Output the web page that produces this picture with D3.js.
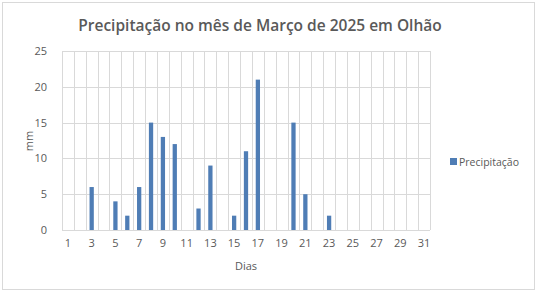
<!DOCTYPE html>
<html>
<head>
<meta charset="utf-8">
<script src="https://cdn.jsdelivr.net/npm/d3@7"></script>
<style>
  body { margin: 0; background: #fff; }
  text { font-family: "Open Sans", "Liberation Sans", sans-serif; fill: #595959; }
</style>
</head>
<body>
<div id="chart"></div>
<script>
// dias do mês e precipitação (mm)
const dias = d3.range(1, 32);
const precipitacao = [0,0,6,0,4,2,6,15,13,12,0,3,9,0,2,11,21,0,0,15,5,0,2,0,0,0,0,0,0,0,0];
const yTicks = [0, 5, 10, 15, 20, 25];
const xTickLabels = dias.filter(function(d) { return d % 2 === 1; });

const width = 538, height = 293;
const margin = {left: 62, right: 108, top: 51, bottom: 63};

const svg = d3.select('#chart')
  .append('svg')
  .attr('width', width)
  .attr('height', height);

// moldura
svg.append('rect')
  .attr('x', 2.5).attr('y', 2.5)
  .attr('width', 532).attr('height', 287)
  .attr('fill', '#fff')
  .attr('stroke', '#d9d9d9');

var x = d3.scaleBand()
  .domain(dias)
  .range([margin.left, width - margin.right])
  .paddingInner(0.64)
  .paddingOuter(0.32);

var xGrid = d3.scaleLinear().domain([0, 31]).range([margin.left, width - margin.right]);

var y = d3.scaleLinear()
  .domain([0, 25])
  .range([height - margin.bottom, margin.top]);

// grelha horizontal
svg.append('g').selectAll('line')
  .data(yTicks)
  .enter().append('line')
  .attr('x1', margin.left).attr('x2', width - margin.right)
  .attr('y1', function(d) { return Math.round(y(d)) + 0.5; })
  .attr('y2', function(d) { return Math.round(y(d)) + 0.5; })
  .attr('stroke', '#d9d9d9');

// grelha vertical
svg.append('g').selectAll('line')
  .data(d3.range(0, 32))
  .enter().append('line')
  .attr('x1', function(d) { return Math.round(xGrid(d)) + 0.5; })
  .attr('x2', function(d) { return Math.round(xGrid(d)) + 0.5; })
  .attr('y1', y(25)).attr('y2', y(0))
  .attr('stroke', '#d9d9d9');

// barras
svg.append('g').selectAll('rect')
  .data(dias.map(function(d, i) { return {dia: d, v: precipitacao[i]}; }).filter(function(d) { return d.v > 0; }))
  .enter().append('rect')
  .attr('x', function(d) { return x(d.dia); })
  .attr('y', function(d) { return y(d.v); })
  .attr('width', x.bandwidth())
  .attr('height', function(d) { return y(0) - y(d.v); })
  .attr('fill', '#4f7db5');

// eixo y
var yAxis = svg.append('g')
  .attr('transform', 'translate(' + (margin.left - 12) + ',0)')
  .call(d3.axisLeft(y).tickValues(yTicks).tickSize(0));
yAxis.select('.domain').remove();
yAxis.selectAll('text').style('font-size', '11px').attr('fill', '#595959');

// eixo x
var xAxis = svg.append('g')
  .attr('transform', 'translate(0,' + (height - margin.bottom + 6) + ')')
  .call(d3.axisBottom(x).tickValues(xTickLabels).tickSize(0));
xAxis.select('.domain').remove();
xAxis.selectAll('text').style('font-size', '11px').attr('fill', '#595959');

// títulos
svg.append('text')
  .attr('x', 260).attr('y', 31)
  .attr('text-anchor', 'middle')
  .style('font-size', '15.5px')
  .style('font-weight', '600')
  .text('Precipitação no mês de Março de 2025 em Olhão');

svg.append('text')
  .attr('x', 246).attr('y', 270)
  .attr('text-anchor', 'middle')
  .style('font-size', '11px')
  .text('Dias');

svg.append('text')
  .attr('transform', 'translate(33,141) rotate(-90)')
  .attr('text-anchor', 'middle')
  .style('font-size', '11px')
  .text('mm');

// legenda
svg.append('rect')
  .attr('x', 450).attr('y', 158)
  .attr('width', 7).attr('height', 7)
  .attr('fill', '#4f7db5');
svg.append('text')
  .attr('x', 459).attr('y', 166)
  .style('font-size', '10.5px')
  .text('Precipitação');
</script>
</body>
</html>
